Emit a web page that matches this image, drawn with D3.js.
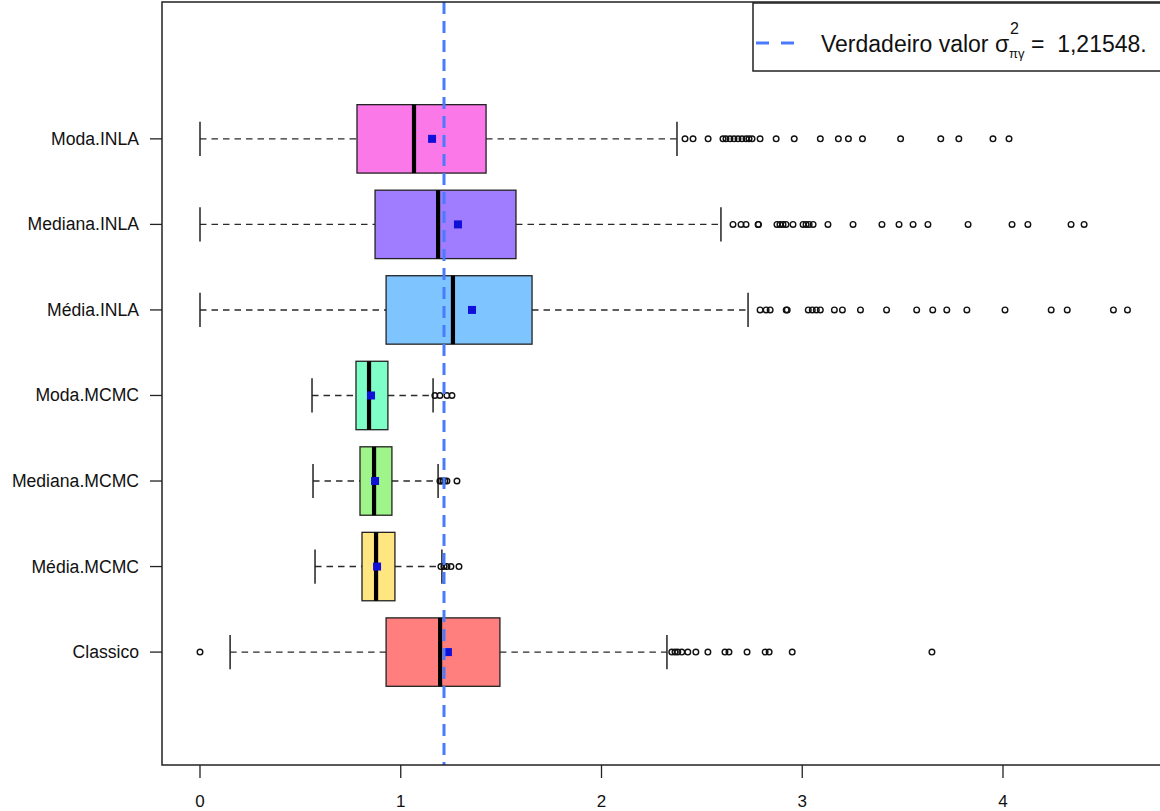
<!DOCTYPE html>
<html>
<head>
<meta charset="utf-8">
<script src="https://cdn.jsdelivr.net/npm/d3@7/dist/d3.min.js"></script>
<style>
  html, body { margin: 0; padding: 0; background: #fff; }
  svg { display: block; }
  text { font-family: "Liberation Sans", Arial, sans-serif; fill: #111; }
  .legend-text { white-space: pre; }
  .xlab { font-family: "Liberation Sans Narrow", "Liberation Sans", Arial, sans-serif; }
</style>
</head>
<body>
<svg id="chart" width="1160" height="811"></svg>
<script>
// Groups, bottom to top
const categories = ["Classico", "Média.MCMC", "Mediana.MCMC", "Moda.MCMC", "Média.INLA", "Mediana.INLA", "Moda.INLA"];
const fills = ["#FF7F7F", "#FFE680", "#A0F58A", "#7FFFC8", "#7EC4FF", "#A07CFF", "#FA78E8"];

// Five-number summaries (whisker ends, quartiles, median) and means
const whiskerLow  = [0.15, 0.573, 0.563, 0.558, 0.0, 0.0, 0.0];
const q1          = [0.927, 0.807, 0.797, 0.777, 0.927, 0.872, 0.782];
const medians     = [1.196, 0.877, 0.867, 0.842, 1.26, 1.186, 1.066];
const q3          = [1.494, 0.971, 0.956, 0.936, 1.654, 1.574, 1.425];
const whiskerHigh = [2.326, 1.205, 1.186, 1.161, 2.73, 2.595, 2.376];
const means       = [1.235, 0.882, 0.872, 0.852, 1.355, 1.285, 1.156];

// Points beyond the whiskers
const outClassico = [0.0, 2.35, 2.366, 2.38, 2.40, 2.43, 2.47, 2.53, 2.615, 2.635, 2.725, 2.815, 2.835, 2.95, 3.646];
const outMediaMCMC = [1.2, 1.215, 1.23, 1.25, 1.29];
const outMedianaMCMC = [1.195, 1.2, 1.21, 1.22, 1.23, 1.28];
const outModaMCMC = [1.17, 1.195, 1.23, 1.255];
const outMediaINLA = [2.79, 2.82, 2.84, 2.92, 2.925, 3.03, 3.05, 3.07, 3.09, 3.16, 3.20, 3.29, 3.42, 3.57, 3.65, 3.72, 3.82, 4.01, 4.24, 4.32, 4.55, 4.62];
const outMedianaINLA = [2.655, 2.695, 2.72, 2.78, 2.782, 2.874, 2.889, 2.904, 2.919, 2.954, 3.004, 3.019, 3.034, 3.054, 3.128, 3.253, 3.397, 3.482, 3.552, 3.626, 3.826, 4.045, 4.124, 4.339, 4.404];
const outModaINLA = [2.416, 2.456, 2.531, 2.605, 2.62, 2.64, 2.66, 2.68, 2.70, 2.72, 2.735, 2.75, 2.79, 2.87, 2.96, 3.09, 3.18, 3.23, 3.30, 3.49, 3.69, 3.78, 3.95, 4.03];
const outliers = [outClassico, outMediaMCMC, outMedianaMCMC, outModaMCMC, outMediaINLA, outMedianaINLA, outModaINLA];

const xTicks = [0, 1, 2, 3, 4];
const trueValue = 1.21548;

const svg = d3.select("#chart");
const plot = { left: 162, top: 2, right: 1170, bottom: 765 };

const x = d3.scaleLinear().domain([0, 4]).range([200, 1003]);
const y = d3.scaleLinear().domain([-0.32, 8.6]).range([plot.bottom, plot.top]);
const boxHalf = (y(0) - y(0.4));
const capHalf = boxHalf / 2;

const groups = categories.map((c, i) => ({
  name: c, pos: i + 1, fill: fills[i],
  lo: whiskerLow[i], q1: q1[i], med: medians[i], q3: q3[i], hi: whiskerHigh[i],
  mean: means[i], out: outliers[i]
}));

const g = svg.append("g");

// Whiskers
g.selectAll("line.wlo").data(groups).join("line")
  .attr("x1", d => x(d.lo)).attr("x2", d => x(d.q1))
  .attr("y1", d => y(d.pos)).attr("y2", d => y(d.pos))
  .attr("stroke", "#2a2a2a").attr("stroke-width", 1.4).attr("stroke-dasharray", "6.5,5");
g.selectAll("line.whi").data(groups).join("line")
  .attr("x1", d => x(d.q3)).attr("x2", d => x(d.hi))
  .attr("y1", d => y(d.pos)).attr("y2", d => y(d.pos))
  .attr("stroke", "#2a2a2a").attr("stroke-width", 1.4).attr("stroke-dasharray", "6.5,5");

// Staples
["lo", "hi"].forEach(k => {
  g.selectAll("line.cap" + k).data(groups).join("line")
    .attr("x1", d => x(d[k])).attr("x2", d => x(d[k]))
    .attr("y1", d => y(d.pos) - capHalf).attr("y2", d => y(d.pos) + capHalf)
    .attr("stroke", "#222").attr("stroke-width", 1.5);
});

// Boxes
g.selectAll("rect.box").data(groups).join("rect")
  .attr("x", d => x(d.q1)).attr("width", d => x(d.q3) - x(d.q1))
  .attr("y", d => y(d.pos) - boxHalf).attr("height", 2 * boxHalf)
  .attr("fill", d => d.fill).attr("stroke", "#222").attr("stroke-width", 1.3);

// Medians
g.selectAll("line.med").data(groups).join("line")
  .attr("x1", d => x(d.med)).attr("x2", d => x(d.med))
  .attr("y1", d => y(d.pos) - boxHalf).attr("y2", d => y(d.pos) + boxHalf)
  .attr("stroke", "#000").attr("stroke-width", 4.2);

// Outliers
const outPts = groups.flatMap(d => d.out.map(v => ({ v, pos: d.pos })));
g.selectAll("circle.out").data(outPts).join("circle")
  .attr("cx", d => x(d.v)).attr("cy", d => y(d.pos)).attr("r", 2.8)
  .attr("fill", "none").attr("stroke", "#111").attr("stroke-width", 1.4);

// True value reference line
svg.append("line")
  .attr("x1", x(trueValue)).attr("x2", x(trueValue))
  .attr("y1", plot.top).attr("y2", plot.bottom)
  .attr("stroke", "#4A7BFF").attr("stroke-width", 3).attr("stroke-dasharray", "12,7");

// Means
const ms = 8;
g.selectAll("rect.mean").data(groups).join("rect")
  .attr("x", d => x(d.mean) - ms / 2).attr("y", d => y(d.pos) - ms / 2)
  .attr("width", ms).attr("height", ms).attr("fill", "#1010D8");

// Frame
svg.append("rect")
  .attr("x", plot.left).attr("y", plot.top)
  .attr("width", plot.right - plot.left).attr("height", plot.bottom - plot.top)
  .attr("fill", "none").attr("stroke", "#222").attr("stroke-width", 1.5);

// Y axis ticks and labels
const yAxis = svg.append("g");
yAxis.selectAll("line").data(groups).join("line")
  .attr("x1", plot.left - 12).attr("x2", plot.left)
  .attr("y1", d => y(d.pos)).attr("y2", d => y(d.pos))
  .attr("stroke", "#222").attr("stroke-width", 1.3);
yAxis.selectAll("text").data(groups).join("text")
  .attr("x", plot.left - 23).attr("y", d => y(d.pos) + 6)
  .attr("text-anchor", "end").attr("font-size", 17.6)
  .text(d => d.name);

// X axis ticks and labels
const xAxis = svg.append("g");
xAxis.selectAll("line").data(xTicks).join("line")
  .attr("x1", d => x(d)).attr("x2", d => x(d))
  .attr("y1", plot.bottom).attr("y2", plot.bottom + 13)
  .attr("stroke", "#222").attr("stroke-width", 1.3);
xAxis.selectAll("text").data(xTicks).join("text")
  .attr("class", "xlab")
  .attr("x", d => x(d)).attr("y", plot.bottom + 42)
  .attr("text-anchor", "middle").attr("font-size", 17)
  .text(d => d);

// Legend
const lg = svg.append("g");
lg.append("rect").attr("x", 753).attr("y", plot.top + 1).attr("width", 430).attr("height", 68)
  .attr("fill", "#fff").attr("stroke", "#222").attr("stroke-width", 1.5);
lg.append("line").attr("x1", 756).attr("x2", 797).attr("y1", 43).attr("y2", 43)
  .attr("stroke", "#4A7BFF").attr("stroke-width", 3).attr("stroke-dasharray", "13,12");
const lt = lg.append("text").attr("class", "legend-text")
  .attr("x", 821).attr("y", 52).attr("font-size", 23).attr("fill", "#222");
lt.append("tspan").text("Verdadeiro valor σ");
const baseLen = lt.node().getComputedTextLength();
lt.append("tspan").attr("font-size", 13).attr("dy", 6).text("πγ");
lg.append("text").attr("x", 821 + baseLen + 1).attr("y", 34).attr("font-size", 16).attr("fill", "#222").text("2");
lt.append("tspan").attr("dy", -6).text(" =  1,21548.");
</script>
</body>
</html>
